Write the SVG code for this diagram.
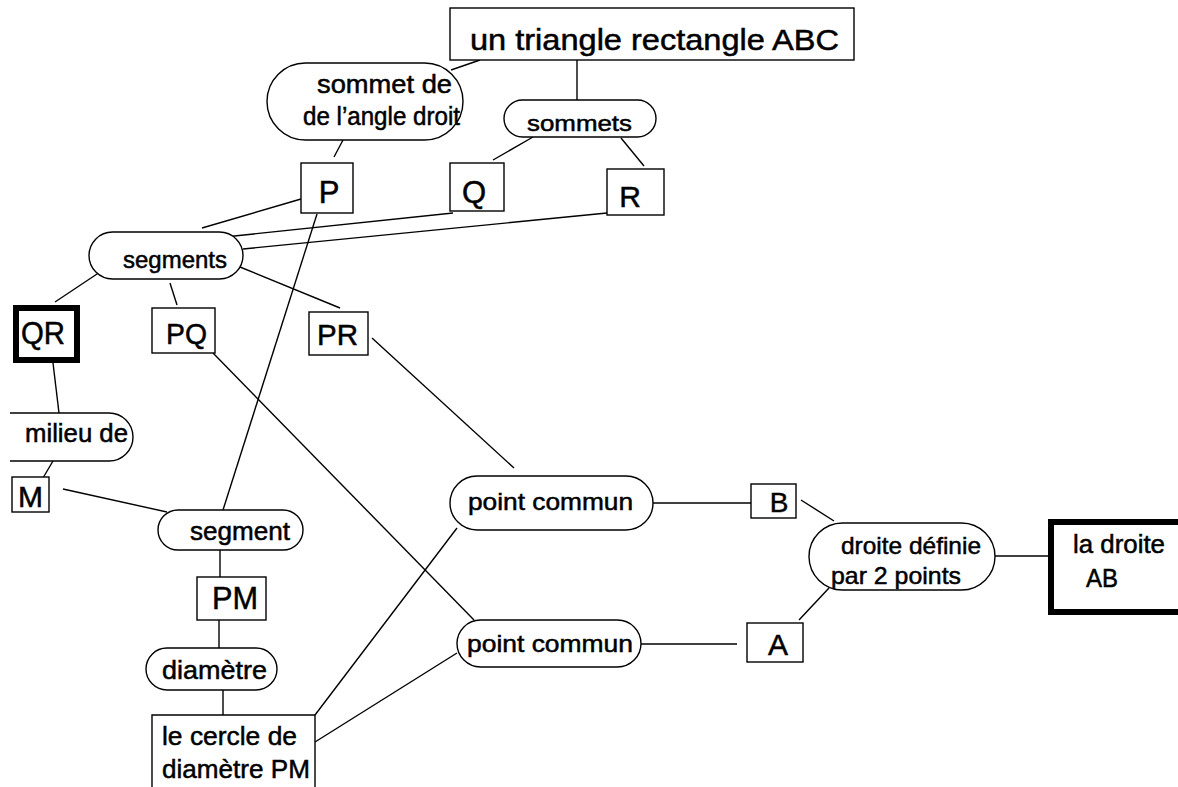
<svg xmlns="http://www.w3.org/2000/svg" width="1178" height="787" viewBox="0 0 1178 787">
<style>
  .bx{fill:#fff;stroke:#000;stroke-width:1.4}
  .thick{fill:#fff;stroke:#000;stroke-width:6}
  .pill{fill:#fff;stroke:#000;stroke-width:1.4}
  .t{font-family:"Liberation Sans",Arial,sans-serif;fill:#000;stroke:#000;stroke-width:0.5}
  .cn line{stroke:#000;stroke-width:1.4}
</style>
<rect width="1178" height="787" fill="#fff"/>
<g id="connectors" class="cn">
  <line x1="480" y1="60" x2="451" y2="70"/>
  <line x1="577" y1="60" x2="577" y2="100"/>
  <line x1="343" y1="140" x2="334" y2="157"/>
  <line x1="533" y1="137" x2="493" y2="160"/>
  <line x1="621" y1="138" x2="644" y2="166"/>
  <line x1="301" y1="199" x2="202" y2="228"/>
  <line x1="453" y1="213" x2="215" y2="238"/>
  <line x1="607" y1="213" x2="243" y2="249"/>
  <line x1="103" y1="270" x2="55" y2="302"/>
  <line x1="170" y1="283" x2="177" y2="305"/>
  <line x1="235" y1="265" x2="340" y2="308"/>
  <line x1="317" y1="214" x2="223" y2="510"/>
  <line x1="53" y1="363" x2="59" y2="413"/>
  <line x1="53" y1="461" x2="37" y2="488"/>
  <line x1="63" y1="489" x2="167" y2="512"/>
  <line x1="213" y1="353" x2="474" y2="620"/>
  <line x1="372" y1="338" x2="514" y2="468"/>
  <line x1="315" y1="715" x2="457" y2="528"/>
  <line x1="315" y1="742" x2="457" y2="653"/>
  <line x1="653" y1="503" x2="751" y2="503"/>
  <line x1="641" y1="644" x2="737" y2="644"/>
  <line x1="801" y1="500" x2="834" y2="521"/>
  <line x1="799" y1="620" x2="829" y2="588"/>
  <line x1="995" y1="556" x2="1048" y2="556"/>
  <line x1="220" y1="550" x2="220" y2="577"/>
  <line x1="219" y1="620" x2="219" y2="648"/>
  <line x1="223" y1="690" x2="223" y2="715"/>
</g>
<g id="n-triangle">
  <rect class="bx" x="450" y="8" width="404" height="52"/>
  <text class="t" x="470" y="50" font-size="29" textLength="369" lengthAdjust="spacingAndGlyphs">un triangle rectangle ABC</text>
</g>
<g id="n-sommet-de">
  <rect class="pill" x="267" y="63" width="196" height="77" rx="38.5"/>
  <text class="t" x="317" y="93" font-size="25" textLength="135" lengthAdjust="spacingAndGlyphs">sommet de</text>
  <text class="t" x="303" y="125" font-size="25" textLength="157" lengthAdjust="spacingAndGlyphs">de l’angle droit</text>
</g>
<g id="n-sommets">
  <rect class="pill" x="504" y="100" width="152" height="37" rx="18.5"/>
  <text class="t" x="527" y="131" font-size="22" textLength="105" lengthAdjust="spacingAndGlyphs">sommets</text>
</g>
<g id="n-P">
  <rect class="bx" x="301" y="163" width="52" height="50"/>
  <text class="t" x="329" y="203" font-size="31" text-anchor="middle">P</text>
</g>
<g id="n-Q">
  <rect class="bx" x="450" y="163" width="54" height="48"/>
  <text class="t" x="474" y="203" font-size="31" text-anchor="middle">Q</text>
</g>
<g id="n-R">
  <rect class="bx" x="607" y="169" width="57" height="46"/>
  <text class="t" x="630" y="207" font-size="30" text-anchor="middle">R</text>
</g>
<g id="n-segments">
  <rect class="pill" x="89" y="232" width="154" height="47" rx="23.5"/>
  <text class="t" x="123" y="268" font-size="24" textLength="104" lengthAdjust="spacingAndGlyphs">segments</text>
</g>
<g id="n-QR">
  <rect class="thick" x="16" y="308" width="61" height="52"/>
  <text class="t" x="21" y="344" font-size="31" textLength="44" lengthAdjust="spacingAndGlyphs">QR</text>
</g>
<g id="n-PQ">
  <rect class="bx" x="152" y="308" width="63" height="45"/>
  <text class="t" x="166" y="344" font-size="30" textLength="41" lengthAdjust="spacingAndGlyphs">PQ</text>
</g>
<g id="n-PR">
  <rect class="bx" x="309" y="312" width="59" height="43"/>
  <text class="t" x="317" y="345" font-size="30" textLength="41" lengthAdjust="spacingAndGlyphs">PR</text>
</g>
<g id="n-milieu">
  <path class="pill" d="M10,413 H109 A24,24 0 0 1 109,461 H10"/>
  <text class="t" x="25" y="442" font-size="25" textLength="103" lengthAdjust="spacingAndGlyphs">milieu de</text>
</g>
<g id="n-M">
  <rect class="bx" x="12" y="477" width="37" height="35"/>
  <text class="t" x="18" y="507" font-size="30" textLength="25" lengthAdjust="spacingAndGlyphs">M</text>
</g>
<g id="n-segment">
  <rect class="pill" x="158" y="510" width="145" height="40" rx="20"/>
  <text class="t" x="190" y="540" font-size="25" textLength="100" lengthAdjust="spacingAndGlyphs">segment</text>
</g>
<g id="n-PM">
  <rect class="bx" x="197" y="577" width="69" height="43"/>
  <text class="t" x="212" y="609" font-size="31" textLength="46" lengthAdjust="spacingAndGlyphs">PM</text>
</g>
<g id="n-diametre">
  <rect class="pill" x="146" y="648" width="131" height="42" rx="21"/>
  <text class="t" x="162" y="679" font-size="26" textLength="105" lengthAdjust="spacingAndGlyphs">diamètre</text>
</g>
<g id="n-cercle">
  <path class="bx" d="M152,790 V715 H315 V790"/>
  <text class="t" x="162" y="745" font-size="26" textLength="135" lengthAdjust="spacingAndGlyphs">le cercle de</text>
  <text class="t" x="162" y="778" font-size="26" textLength="148" lengthAdjust="spacingAndGlyphs">diamètre PM</text>
</g>
<g id="n-point-commun-1">
  <rect class="pill" x="450" y="476" width="203" height="54" rx="27"/>
  <text class="t" x="468" y="510" font-size="24" textLength="165" lengthAdjust="spacingAndGlyphs">point commun</text>
</g>
<g id="n-point-commun-2">
  <rect class="pill" x="457" y="620" width="184" height="47" rx="23.5"/>
  <text class="t" x="467" y="652" font-size="24" textLength="166" lengthAdjust="spacingAndGlyphs">point commun</text>
</g>
<g id="n-B">
  <rect class="bx" x="751" y="484" width="45" height="34"/>
  <text class="t" x="779" y="512" font-size="28" text-anchor="middle">B</text>
</g>
<g id="n-A">
  <rect class="bx" x="747" y="623" width="56" height="39"/>
  <text class="t" x="778" y="655" font-size="30" text-anchor="middle">A</text>
</g>
<g id="n-droite-definie">
  <rect class="pill" x="809" y="523" width="186" height="67" rx="33.5"/>
  <text class="t" x="841" y="554" font-size="24" textLength="140" lengthAdjust="spacingAndGlyphs">droite définie</text>
  <text class="t" x="831" y="584" font-size="24" textLength="130" lengthAdjust="spacingAndGlyphs">par 2 points</text>
</g>
<g id="n-droite-AB">
  <path class="thick" d="M1185,522 H1051 V612 H1185"/>
  <text class="t" x="1073" y="553" font-size="25" textLength="92" lengthAdjust="spacingAndGlyphs">la droite</text>
  <text class="t" x="1086" y="587" font-size="25" textLength="32" lengthAdjust="spacingAndGlyphs">AB</text>
</g>
</svg>
